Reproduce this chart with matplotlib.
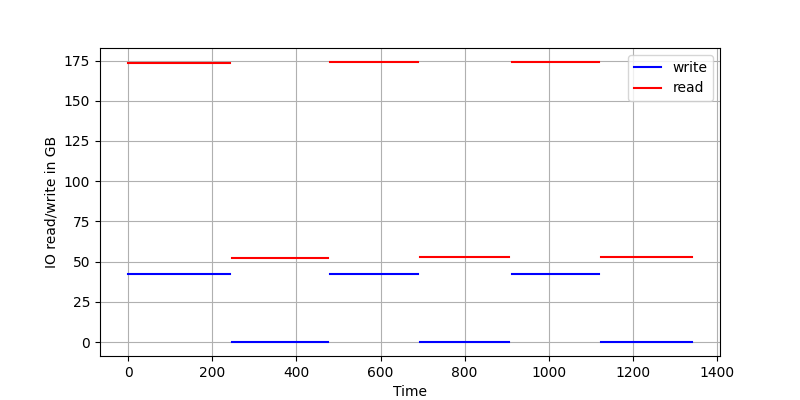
import numpy as np
import matplotlib
matplotlib.use("Agg")
import matplotlib.pyplot as plt

# --- Data: phases (start, end) in time units ---
seg_start = [0, 247, 480, 694, 912, 1124]
seg_end = [242, 475, 689, 905, 1119, 1340]
write_gb = [42.3, 0.0, 42.3, 0.0, 42.3, 0.0]
read_gb = [173.5, 52.2, 174.1, 52.9, 174.1, 52.9]

def to_line(starts, ends, vals):
    # build one line with NaN gaps between phases
    xs, ys = [], []
    for s, e, v in zip(starts, ends, vals):
        xs += [s, e, np.nan]
        ys += [v, v, np.nan]
    return xs, ys

fig, ax = plt.subplots(figsize=(8, 4), dpi=100)

wx, wy = to_line(seg_start, seg_end, write_gb)
rx, ry = to_line(seg_start, seg_end, read_gb)
ax.plot(wx, wy, color='blue', label='write')
ax.plot(rx, ry, color='red', label='read')

ax.set_xlabel("Time")
ax.set_ylabel("IO read/write in GB")
ax.grid(True)
ax.legend(loc='upper right')

plt.savefig("out.png")
